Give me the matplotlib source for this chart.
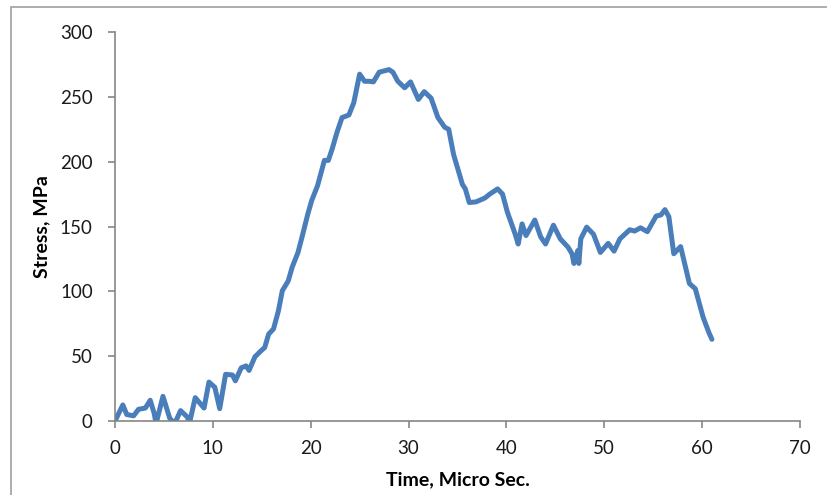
import matplotlib
matplotlib.use("Agg")
import matplotlib.pyplot as plt
from matplotlib.patches import Rectangle

time_us = [0.0, 0.8, 1.2, 1.9, 2.4, 3.1, 3.6, 4.0, 4.2, 4.9, 5.6, 6.1, 6.7, 7.4, 7.6,
           8.2, 9.1, 9.6, 10.2, 10.7, 11.3, 12.0, 12.3, 12.9, 13.4, 13.7, 14.3, 14.9,
           15.3, 15.7, 16.2, 16.7, 17.1, 17.7, 18.1, 18.7, 19.1, 19.7, 20.1, 20.7,
           21.4, 21.8, 22.2, 22.7, 23.2, 23.9, 24.4, 25.0, 25.5, 26.0, 26.4, 27.0,
           27.5, 28.0, 28.4, 28.9, 29.6, 30.2, 31.0, 31.6, 32.3, 33.0, 33.7, 34.1,
           34.6, 35.5, 35.8, 36.2, 36.9, 37.8, 38.3, 39.1, 39.6, 40.1, 40.9, 41.2,
           41.6, 42.0, 42.9, 43.5, 44.0, 44.8, 45.5, 46.3, 46.7, 46.9, 47.3, 47.4,
           47.6, 48.2, 48.9, 49.6, 50.4, 51.0, 51.6, 52.6, 53.1, 53.7, 54.4, 55.3,
           55.8, 56.2, 56.6, 57.1, 57.8, 58.7, 59.3, 60.1, 60.7, 61.0]
stress_mpa = [0, 12.4, 5, 4, 9, 10, 16, 6, -2, 19, 2, -2, 8, 3, -2,
              18, 10, 30, 26, 9.5, 36, 35.5, 31, 41, 42.5, 39, 49.5, 54,
              56.7, 67, 71, 85, 100.5, 108, 118.5, 130, 141.5, 159.5, 170, 181.5,
              201, 201, 210, 223, 234, 236, 245.5, 267.5, 262, 262, 261.5, 269,
              270, 271, 269, 262, 257, 261.5, 248, 254, 249, 234, 226.5, 225,
              205.5, 182.5, 179, 168.5, 169, 172, 175, 179, 175, 161, 144, 136.5,
              152, 143, 155, 142, 136.5, 151, 140.5, 134, 129, 121.5, 131.5, 121.5,
              140.5, 149.5, 144, 130, 137, 131, 140.5, 147.5, 146.5, 149, 146, 158,
              159, 163, 157.5, 129, 134.5, 106, 102, 80, 68, 63]

x_ticks = [0, 10, 20, 30, 40, 50, 60, 70]
y_ticks = [0, 50, 100, 150, 200, 250, 300]

plt.rcParams['font.family'] = ['Lato', 'DejaVu Sans']

fig = plt.figure(figsize=(8.28, 4.95), dpi=100)
fig.patch.set_facecolor('white')
# outer chart-area border
fig.patches.append(Rectangle((11/828, -0.05), 1.2, 1 - 7/495 + 0.05,
                             transform=fig.transFigure, fill=False,
                             edgecolor='#a0a0a0', linewidth=1.2))

ax = fig.add_axes([115/828, 1 - 421/495, (800 - 115)/828, (421 - 32)/495])
ax.plot(time_us, stress_mpa, color='#4a7ebb', linewidth=3.6, solid_joinstyle='round',
        solid_capstyle='round')
ax.set_xlim(0, 70)
ax.set_ylim(0, 300)
ax.set_xticks(x_ticks)
ax.set_yticks(y_ticks)
for s in ['top', 'right']:
    ax.spines[s].set_visible(False)
for s in ['left', 'bottom']:
    ax.spines[s].set_color('#868686')
    ax.spines[s].set_linewidth(1.2)
ax.tick_params(axis='both', direction='out', length=5, width=1.2, color='#868686',
               labelsize=13.5, labelcolor='#1a1a1a')
ax.tick_params(axis='x', pad=9)
ax.tick_params(axis='y', pad=11)
ax.set_xlabel('Time, Micro Sec.', fontsize=14, fontweight='bold', labelpad=10)
ax.set_ylabel('Stress, MPa', fontsize=14, fontweight='bold', labelpad=7)

fig.savefig('out.png', dpi=100)
